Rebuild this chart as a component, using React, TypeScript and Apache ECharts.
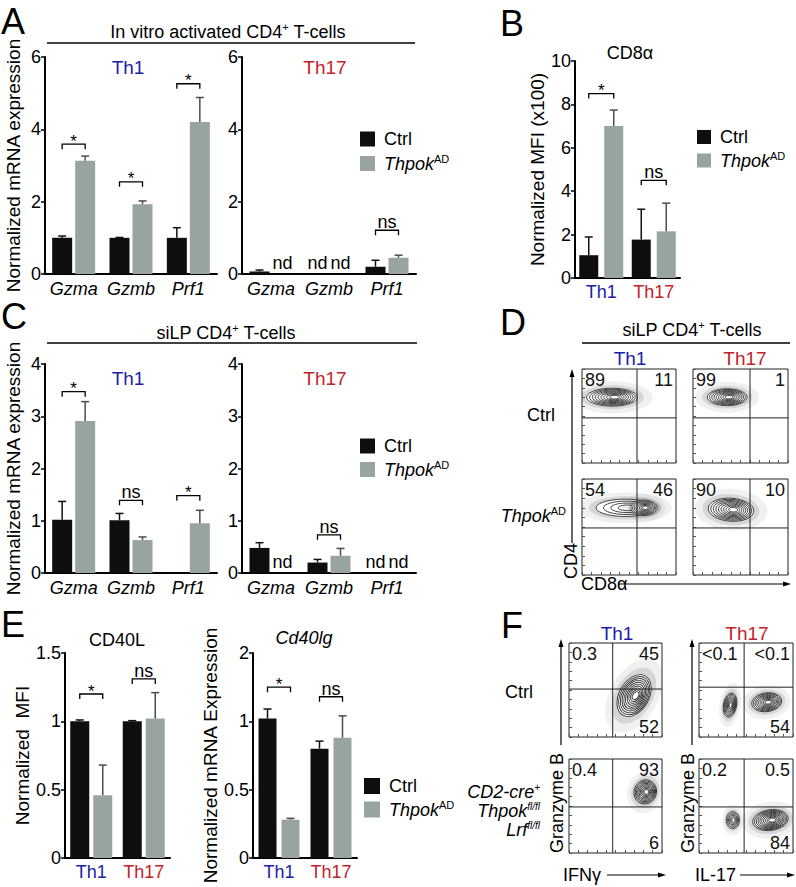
import React, { useEffect, useRef } from 'react';
import * as echarts from 'echarts';

const FONT = '"Liberation Sans", Arial, Helvetica, sans-serif';
const BLUE = '#1d1da8';
const RED = '#c1232b';
const CTRL_COLOR = '#0e0e0e';
const THPOK_COLOR = '#98a4a2';
const FS = 18;

// ---------- Panel A (in vitro activated CD4+ T cells) ----------
const genes = ['Gzma', 'Gzmb', 'Prf1'];
const aTh1Ctrl = [1.0, 1.0, 1.0];
const aTh1CtrlErr = [1.05, 1.01, 1.28];
const aTh1Thpok = [3.13, 1.93, 4.2];
const aTh1ThpokErr = [3.26, 2.02, 4.88];
const aTh1SigCat = [0, 1, 2];
const aTh1SigY = [3.59, 2.55, 5.26];
const aTh1SigLabel = ['*', '*', '*'];

const aTh17Ctrl = [0.07, null, 0.2];
const aTh17CtrlErr = [0.11, null, 0.38];
const aTh17Thpok = [null, null, 0.45];
const aTh17ThpokErr = [null, null, 0.52];
const aTh17SigCat = [2];
const aTh17SigY = [1.21];
const aTh17SigLabel = ['ns'];
const aTh17NdCat = [0, 1, 1];
const aTh17NdSeries = [1, 0, 1];

// ---------- Panel B (CD8a MFI) ----------
const subsets = ['Th1', 'Th17'];
const bCtrl = [1.05, 1.77];
const bCtrlErr = [1.89, 3.17];
const bThpok = [7.0, 2.15];
const bThpokErr = [7.74, 3.45];
const bSigCat = [0, 1];
const bSigY = [8.5, 4.5];
const bSigLabel = ['*', 'ns'];

// ---------- Panel C (siLP CD4+ T cells) ----------
const cTh1Ctrl = [1.02, 1.01, null];
const cTh1CtrlErr = [1.37, 1.14, null];
const cTh1Thpok = [2.91, 0.63, 0.95];
const cTh1ThpokErr = [3.28, 0.69, 1.2];
const cTh1SigCat = [0, 1, 2];
const cTh1SigY = [3.47, 1.39, 1.48];
const cTh1SigLabel = ['*', 'ns', '*'];

const cTh17Ctrl = [0.48, 0.2, null];
const cTh17CtrlErr = [0.58, 0.26, null];
const cTh17Thpok = [null, 0.33, null];
const cTh17ThpokErr = [null, 0.47, null];
const cTh17SigCat = [1];
const cTh17SigY = [0.73];
const cTh17SigLabel = ['ns'];
const cTh17NdCat = [0, 2, 2];
const cTh17NdSeries = [1, 0, 1];

// ---------- Panel E ----------
const eMfiCtrl = [1.0, 1.0];
const eMfiCtrlErr = [1.01, 1.005];
const eMfiThpok = [0.46, 1.02];
const eMfiThpokErr = [0.68, 1.21];
const eMfiSigCat = [0, 1];
const eMfiSigY = [1.2, 1.31];
const eMfiSigLabel = ['*', 'ns'];

const eMrnaCtrl = [1.02, 0.8];
const eMrnaCtrlErr = [1.09, 0.855];
const eMrnaThpok = [0.28, 0.88];
const eMrnaThpokErr = [0.29, 1.04];
const eMrnaSigCat = [0, 1];
const eMrnaSigY = [1.25, 1.18];
const eMrnaSigLabel = ['*', 'ns'];
const eMrnaTickLabels = ['0', '0.5', '1', '2'];

// ---------- Panel D (flow: CD8a vs CD4), order Th1-Ctrl, Th17-Ctrl, Th1-Thpok, Th17-Thpok ----------
const dGateX = [58.5, 60, 58.5, 60];
const dGateY = [48, 48, 49, 49];
const dQuad = [
  ['89', '11'],
  ['99', '1'],
  ['54', '46'],
  ['90', '10'],
];
// cluster: [centerX, centerY, radiusX, radiusY, rotationDeg, rings]
const dClusters = [
  [[32, 70, 27, 9.5, 0, 9]],
  [[36, 70, 21, 9, 0, 9]],
  [[46, 70, 31, 9, 0, 4], [66, 70, 14, 8, 0, 8]],
  [[40, 68, 24, 12, -4, 9]],
];

// ---------- Panel F (flow: IFNg / IL-17 vs Granzyme B) ----------
const fGateX = [47, 48, 47, 48];
const fGateY = [51, 53, 49, 49];
const fQuad = [
  ['0.3', '45', '52'],
  ['<0.1', '<0.1', '54'],
  ['0.4', '93', '6'],
  ['0.2', '0.5', '84'],
];
const fClusters = [
  [[70, 44, 16, 24, -30, 10]],
  [[33, 34, 7, 13, -10, 8], [72, 37, 16, 10, 8, 9]],
  [[82, 65, 12, 13, -20, 9]],
  [[36, 35, 7, 9, 0, 6], [76, 35, 19, 11, 8, 10]],
];

function buildOption() {
  const grids: any[] = [];
  const xAxes: any[] = [];
  const yAxes: any[] = [];
  const series: any[] = [];
  const legends: any[] = [];
  const graphics: any[] = [];

  const nz = (a: any[]) => a.map((v) => (v == null ? '-' : v));

  function addBarPanel(p: any) {
    const g = grids.length;
    const off = (p.barW + p.gap) / 2;
    grids.push({ left: p.left, top: p.top, width: p.width, height: p.height, containLabel: false, outerBoundsMode: 'none' });
    xAxes.push({
      type: 'category',
      gridIndex: g,
      data: p.cats,
      axisLine: { show: true, lineStyle: { color: '#000', width: 2 } },
      axisTick: { show: false },
      axisLabel: p.groupLabels
        ? {
            margin: 5,
            interval: 0,
            hideOverlap: false,
            formatter: (v: string) => (v === 'Th1' ? '{b|Th1}' : '{r|Th17}'),
            rich: {
              b: { color: BLUE, fontSize: FS, fontFamily: FONT },
              r: { color: RED, fontSize: FS, fontFamily: FONT },
            },
          }
        : { margin: 6, interval: 0, hideOverlap: false, color: '#000', fontSize: FS, fontStyle: 'italic', fontFamily: FONT },
    });
    yAxes.push({
      type: 'value',
      gridIndex: g,
      min: 0,
      max: p.max,
      interval: p.interval,
      axisLine: { show: true, lineStyle: { color: '#000', width: 2 } },
      axisTick: { show: true, length: 4, lineStyle: { color: '#000', width: 1.5 } },
      axisLabel: { fontSize: FS, color: '#000', margin: 4, fontFamily: FONT, formatter: p.formatter },
      splitLine: { show: false },
      name: p.yName || '',
      nameLocation: 'middle',
      nameGap: p.nameGap || 20,
      nameTextStyle: { fontSize: 19, color: '#000', fontFamily: FONT },
    });
    series.push({
      type: 'bar',
      name: 'Ctrl',
      xAxisIndex: g,
      yAxisIndex: g,
      data: nz(p.ctrl),
      barWidth: p.barW,
      barGap: `${(p.gap / p.barW) * 100}%`,
      itemStyle: { color: CTRL_COLOR },
      silent: true,
    });
    series.push({
      type: 'bar',
      name: 'Thpok',
      xAxisIndex: g,
      yAxisIndex: g,
      data: nz(p.thpok),
      barWidth: p.barW,
      barGap: `${(p.gap / p.barW) * 100}%`,
      itemStyle: { color: THPOK_COLOR },
      silent: true,
    });
    // error bars
    const errData: any[] = [];
    p.ctrl.forEach((v: any, i: number) => {
      if (v != null && p.ctrlErr[i] != null) errData.push([i, v, p.ctrlErr[i], 0]);
    });
    p.thpok.forEach((v: any, i: number) => {
      if (v != null && p.thpokErr[i] != null) errData.push([i, v, p.thpokErr[i], 1]);
    });
    series.push({
      type: 'custom',
      xAxisIndex: g,
      yAxisIndex: g,
      data: errData,
      silent: true,
      z: 3,
      renderItem: (params: any, api: any) => {
        const i = api.value(0);
        const s = api.value(3);
        const b = api.coord([i, api.value(1)]);
        const t = api.coord([i, api.value(2)]);
        const x = b[0] + (s === 0 ? -off : off);
        const color = s === 0 ? '#111' : '#4d4d4d';
        return {
          type: 'group',
          children: [
            { type: 'line', shape: { x1: x, y1: b[1], x2: x, y2: t[1] }, style: { stroke: color, lineWidth: 1.5 } },
            { type: 'line', shape: { x1: x - 4, y1: t[1], x2: x + 4, y2: t[1] }, style: { stroke: color, lineWidth: 1.5 } },
          ],
        };
      },
    });
    // significance brackets
    const sigData = p.sigCat.map((c: number, k: number) => [c, p.sigY[k]]);
    series.push({
      type: 'custom',
      xAxisIndex: g,
      yAxisIndex: g,
      data: sigData,
      silent: true,
      z: 3,
      renderItem: (params: any, api: any) => {
        const pt = api.coord([api.value(0), api.value(1)]);
        const lab = p.sigLabel[params.dataIndex];
        const l = pt[0] - off;
        const r = pt[0] + off;
        const star = lab === '*';
        return {
          type: 'group',
          children: [
            {
              type: 'polyline',
              shape: { points: [[l, pt[1] + 5], [l, pt[1]], [r, pt[1]], [r, pt[1] + 5]] },
              style: { stroke: '#000', lineWidth: 1.3, fill: 'none' },
            },
            {
              type: 'text',
              x: pt[0],
              y: star ? pt[1] - 3 : pt[1] + 1,
              style: {
                text: lab,
                fill: '#000',
                fontSize: star ? 17 : FS,
                fontFamily: FONT,
                align: 'center',
                verticalAlign: star ? 'middle' : 'bottom',
              },
            },
          ],
        };
      },
    });
    if (p.ndCat) {
      const ndData = p.ndCat.map((c: number, k: number) => [c, p.ndSeries[k]]);
      series.push({
        type: 'custom',
        xAxisIndex: g,
        yAxisIndex: g,
        data: ndData,
        silent: true,
        renderItem: (params: any, api: any) => {
          const pt = api.coord([api.value(0), 0]);
          const x = pt[0] + (api.value(1) === 0 ? -off : off);
          return {
            type: 'text',
            x,
            y: pt[1] - 11,
            style: { text: 'nd', fill: '#000', fontSize: FS, fontFamily: FONT, align: 'center', verticalAlign: 'middle' },
          };
        },
      });
    }
    return g;
  }

  function addFlowPanel(p: any) {
    const g = grids.length;
    grids.push({
      left: p.left,
      top: p.top,
      width: p.width,
      height: p.height,
      show: true,
      borderColor: '#222',
      borderWidth: 1,
      backgroundColor: '#fff',
      containLabel: false,
      outerBoundsMode: 'none',
    });
    const axisCommon = {
      min: 0,
      max: 100,
      interval: 10,
      axisLine: { show: false },
      axisTick: { show: true, inside: true, length: 3, lineStyle: { color: '#555', width: 1 } },
      axisLabel: { show: false },
      splitLine: { show: false },
    };
    xAxes.push({ type: 'value', gridIndex: g, ...axisCommon });
    yAxes.push({ type: 'value', gridIndex: g, ...axisCommon });
    series.push({
      type: 'custom',
      xAxisIndex: g,
      yAxisIndex: g,
      data: p.clusters,
      silent: true,
      clip: true,
      z: 2,
      renderItem: (params: any, api: any) => {
        const c = api.coord([api.value(0), api.value(1)]);
        const s = api.size([api.value(2), api.value(3)]);
        const rot = (api.value(4) * Math.PI) / 180;
        const n = api.value(5);
        const children: any[] = [
          {
            type: 'ellipse',
            x: c[0],
            y: c[1],
            rotation: rot,
            shape: { cx: 0, cy: 0, rx: s[0] * 1.6, ry: s[1] * 1.8 },
            style: { fill: 'rgba(90,90,90,0.09)' },
          },
          {
            type: 'ellipse',
            x: c[0],
            y: c[1],
            rotation: rot,
            shape: { cx: 0, cy: 0, rx: s[0] * 1.25, ry: s[1] * 1.35 },
            style: { fill: 'rgba(60,60,60,0.14)' },
          },
        ];
        for (let k = 0; k < n; k++) {
          const f = 1 - (k * 0.9) / n;
          children.push({
            type: 'ellipse',
            x: c[0] + (1 - f) * s[0] * 0.12,
            y: c[1],
            rotation: rot,
            shape: { cx: 0, cy: 0, rx: s[0] * f, ry: s[1] * f },
            style: { fill: k === 0 ? '#fff' : 'none', stroke: '#2e2e2e', lineWidth: 0.9 },
          });
        }
        return { type: 'group', children };
      },
    });
    series.push({
      type: 'custom',
      xAxisIndex: g,
      yAxisIndex: g,
      data: [[p.gateX, p.gateY]],
      silent: true,
      z: 4,
      renderItem: (params: any, api: any) => {
        const pt = api.coord([api.value(0), api.value(1)]);
        const cs = params.coordSys;
        const txt = (x: number, y: number, t: string, align: string, va: string) => ({
          type: 'text',
          x,
          y,
          style: { text: t, fill: '#111', fontSize: 18, fontFamily: FONT, align, verticalAlign: va },
        });
        const children: any[] = [
          { type: 'line', shape: { x1: pt[0], y1: cs.y, x2: pt[0], y2: cs.y + cs.height }, style: { stroke: '#222', lineWidth: 1 } },
          { type: 'line', shape: { x1: cs.x, y1: pt[1], x2: cs.x + cs.width, y2: pt[1] }, style: { stroke: '#222', lineWidth: 1 } },
          txt(cs.x + 3, cs.y + 2, p.quad[0], 'left', 'top'),
          txt(cs.x + cs.width - 3, cs.y + 2, p.quad[1], 'right', 'top'),
        ];
        if (p.quad[2] != null) children.push(txt(cs.x + cs.width - 3, cs.y + cs.height - 1, p.quad[2], 'right', 'bottom'));
        return { type: 'group', children };
      },
    });
  }

  // ----- bar panels -----
  addBarPanel({
    left: 45, top: 57, width: 172, height: 217, cats: genes, max: 6, interval: 2,
    ctrl: aTh1Ctrl, ctrlErr: aTh1CtrlErr, thpok: aTh1Thpok, thpokErr: aTh1ThpokErr,
    sigCat: aTh1SigCat, sigY: aTh1SigY, sigLabel: aTh1SigLabel,
    barW: 20, gap: 3, yName: 'Normalized mRNA expression', nameGap: 22,
  });
  addBarPanel({
    left: 242, top: 57, width: 174, height: 217, cats: genes, max: 6, interval: 2,
    ctrl: aTh17Ctrl, ctrlErr: aTh17CtrlErr, thpok: aTh17Thpok, thpokErr: aTh17ThpokErr,
    sigCat: aTh17SigCat, sigY: aTh17SigY, sigLabel: aTh17SigLabel, ndCat: aTh17NdCat, ndSeries: aTh17NdSeries,
    barW: 20, gap: 3,
  });
  addBarPanel({
    left: 575, top: 61, width: 105, height: 217, cats: subsets, groupLabels: true, max: 10, interval: 2,
    ctrl: bCtrl, ctrlErr: bCtrlErr, thpok: bThpok, thpokErr: bThpokErr,
    sigCat: bSigCat, sigY: bSigY, sigLabel: bSigLabel,
    barW: 19, gap: 6, yName: 'Normalized MFI (x100)', nameGap: 25,
  });
  addBarPanel({
    left: 45, top: 364, width: 172, height: 209, cats: genes, max: 4, interval: 1,
    ctrl: cTh1Ctrl, ctrlErr: cTh1CtrlErr, thpok: cTh1Thpok, thpokErr: cTh1ThpokErr,
    sigCat: cTh1SigCat, sigY: cTh1SigY, sigLabel: cTh1SigLabel,
    barW: 20, gap: 3, yName: 'Normalized mRNA expression', nameGap: 22,
  });
  addBarPanel({
    left: 242, top: 364, width: 174, height: 209, cats: genes, max: 4, interval: 1,
    ctrl: cTh17Ctrl, ctrlErr: cTh17CtrlErr, thpok: cTh17Thpok, thpokErr: cTh17ThpokErr,
    sigCat: cTh17SigCat, sigY: cTh17SigY, sigLabel: cTh17SigLabel, ndCat: cTh17NdCat, ndSeries: cTh17NdSeries,
    barW: 20, gap: 3,
  });
  addBarPanel({
    left: 65, top: 653, width: 105, height: 205, cats: subsets, groupLabels: true, max: 1.5, interval: 0.5,
    ctrl: eMfiCtrl, ctrlErr: eMfiCtrlErr, thpok: eMfiThpok, thpokErr: eMfiThpokErr,
    sigCat: eMfiSigCat, sigY: eMfiSigY, sigLabel: eMfiSigLabel,
    barW: 19, gap: 4, yName: 'Normalized  MFI', nameGap: 31,
  });
  addBarPanel({
    left: 253, top: 653, width: 104, height: 205, cats: subsets, groupLabels: true, max: 1.5, interval: 0.5,
    ctrl: eMrnaCtrl, ctrlErr: eMrnaCtrlErr, thpok: eMrnaThpok, thpokErr: eMrnaThpokErr,
    sigCat: eMrnaSigCat, sigY: eMrnaSigY, sigLabel: eMrnaSigLabel,
    barW: 18, gap: 5, yName: 'Normalized mRNA Expression', nameGap: 28,
    formatter: (v: number) => eMrnaTickLabels[Math.round(v / 0.5)],
  });

  // ----- flow panels -----
  const dPos = [
    [582, 369, 94, 94],
    [693, 369, 95, 94],
    [582, 479, 94, 96],
    [693, 479, 95, 96],
  ];
  dPos.forEach((b, i) =>
    addFlowPanel({ left: b[0], top: b[1], width: b[2], height: b[3], clusters: dClusters[i], gateX: dGateX[i], gateY: dGateY[i], quad: dQuad[i] })
  );
  const fPos = [
    [569, 643, 93, 94],
    [699, 643, 94, 94],
    [569, 759, 93, 94],
    [699, 759, 94, 94],
  ];
  fPos.forEach((b, i) =>
    addFlowPanel({ left: b[0], top: b[1], width: b[2], height: b[3], clusters: fClusters[i], gateX: fGateX[i], gateY: fGateY[i], quad: fQuad[i] })
  );

  // ----- legends -----
  const legendRich = {
    n: { fontSize: FS, fontFamily: FONT, color: '#000', lineHeight: 21 },
    i: { fontSize: FS, fontFamily: FONT, fontStyle: 'italic', color: '#000', lineHeight: 21 },
    s: { fontSize: 11, fontFamily: FONT, color: '#000', verticalAlign: 'top', lineHeight: 11 },
  };
  const mkLegend = (left: number, top: number, size: number, gap: number) => ({
    orient: 'vertical',
    left,
    top,
    padding: 0,
    itemWidth: size,
    itemHeight: size,
    itemGap: gap,
    icon: 'rect',
    selectedMode: false,
    data: ['Ctrl', 'Thpok'],
    formatter: (name: string) => (name === 'Thpok' ? '{i|Thpok}{s|AD}' : '{n|Ctrl}'),
    textStyle: { fontSize: FS, color: '#000', fontFamily: FONT, padding: [0, 0, 0, 4], rich: legendRich },
  });
  legends.push(mkLegend(360, 130, 15, 5));
  legends.push(mkLegend(697, 128, 14, 4));
  legends.push(mkLegend(360, 437, 15, 4));
  legends.push(mkLegend(364, 777, 16, 4));

  // ----- graphic texts -----
  const T = (x: number, y: number, text: string, o: any = {}) => ({
    type: 'text',
    x,
    y,
    rotation: o.rotate || 0,
    silent: true,
    style: {
      text,
      fill: o.color || '#000',
      fontSize: o.size || FS,
      fontFamily: FONT,
      fontStyle: o.italic ? 'italic' : 'normal',
      align: o.align || 'center',
      verticalAlign: o.va || 'middle',
      rich: o.rich,
    },
  });
  const richSup = {
    n: { fontSize: FS, fontFamily: FONT, color: '#000', lineHeight: 22 },
    i: { fontSize: FS, fontFamily: FONT, fontStyle: 'italic', color: '#000', lineHeight: 22 },
    s: { fontSize: 11, fontFamily: FONT, color: '#000', verticalAlign: 'top', lineHeight: 11 },
  };
  const richStack = {
    i: { fontSize: FS, fontFamily: FONT, fontStyle: 'italic', color: '#000', lineHeight: 19, align: 'right' },
    si: { fontSize: 10, fontFamily: FONT, fontStyle: 'italic', color: '#000', verticalAlign: 'top', lineHeight: 10, align: 'right' },
  };
  const L = (x1: number, y1: number, x2: number, y2: number, w = 1.5) => ({
    type: 'line',
    silent: true,
    shape: { x1, y1, x2, y2 },
    style: { stroke: '#000', lineWidth: w },
  });
  const arrowUp = (x: number, yTip: number) => ({
    type: 'polygon',
    silent: true,
    shape: { points: [[x, yTip], [x - 2.5, yTip + 8], [x + 2.5, yTip + 8]] },
    style: { fill: '#000' },
  });
  const arrowRight = (xTip: number, y: number) => ({
    type: 'polygon',
    silent: true,
    shape: { points: [[xTip, y], [xTip - 8, y - 2.5], [xTip - 8, y + 2.5]] },
    style: { fill: '#000' },
  });

  // panel letters
  graphics.push(T(13, 21, 'A', { size: 36 }));
  graphics.push(T(512, 23, 'B', { size: 36 }));
  graphics.push(T(14, 316, 'C', { size: 36 }));
  graphics.push(T(513, 322, 'D', { size: 36 }));
  graphics.push(T(13, 624, 'E', { size: 36 }));
  graphics.push(T(512, 625, 'F', { size: 36 }));

  // panel A header
  graphics.push(T(228, 32, '{n|In vitro activated CD4}{s|+}{n| T-cells}', { rich: richSup }));
  graphics.push(L(47, 43, 415, 43));
  graphics.push(T(128, 67, 'Th1', { color: BLUE, size: 19 }));
  graphics.push(T(325, 67, 'Th17', { color: RED, size: 19 }));
  // panel B header
  graphics.push(T(630, 53, 'CD8α'));
  // panel C header
  graphics.push(T(226, 333, '{n|siLP CD4}{s|+}{n| T-cells}', { rich: richSup }));
  graphics.push(L(47, 343, 417, 343));
  graphics.push(T(128, 378, 'Th1', { color: BLUE, size: 19 }));
  graphics.push(T(325, 378, 'Th17', { color: RED, size: 19 }));
  // panel D header
  graphics.push(T(692, 330, '{n|siLP CD4}{s|+}{n| T-cells}', { rich: richSup }));
  graphics.push(L(582, 343, 790, 343));
  graphics.push(T(630, 358, 'Th1', { color: BLUE, size: 19 }));
  graphics.push(T(745, 358, 'Th17', { color: RED, size: 19 }));
  graphics.push(T(555, 415, 'Ctrl', { align: 'right' }));
  graphics.push(T(566, 516, '{i|Thpok}{s|AD}', { align: 'right', rich: richSup }));
  graphics.push(L(572, 543, 572, 376, 1.2));
  graphics.push(arrowUp(572, 369));
  graphics.push(T(571, 561, 'CD4', { rotate: Math.PI / 2 }));
  graphics.push(T(581, 584, 'CD8α', { align: 'left' }));
  graphics.push(L(618, 584, 784, 584, 1.2));
  graphics.push(arrowRight(791, 584));
  // panel E titles
  graphics.push(T(117, 640, 'CD40L'));
  graphics.push(T(304, 638, 'Cd40lg', { italic: true }));
  // panel F
  graphics.push(T(617, 633, 'Th1', { color: BLUE, size: 19 }));
  graphics.push(T(747, 633, 'Th17', { color: RED, size: 19 }));
  graphics.push(T(533, 692, 'Ctrl', { align: 'right' }));
  graphics.push(
    T(540, 811, '{i|CD2-cre}{si|+}\n{i|Thpok}{si|fl/fl}\n{i|Lrf}{si|fl/fl}', { align: 'right', rich: richStack })
  );
  graphics.push(L(561, 745, 561, 646, 1.2));
  graphics.push(arrowUp(561, 639));
  graphics.push(T(557, 803, 'Granzyme B', { rotate: Math.PI / 2 }));
  graphics.push(L(692, 745, 692, 646, 1.2));
  graphics.push(arrowUp(692, 639));
  graphics.push(T(688, 803, 'Granzyme B', { rotate: Math.PI / 2 }));
  graphics.push(T(563, 875, 'IFNγ', { align: 'left' }));
  graphics.push(L(607, 875, 659, 875, 1.2));
  graphics.push(arrowRight(666, 875));
  graphics.push(T(695, 875, 'IL-17', { align: 'left' }));
  graphics.push(L(740, 875, 788, 875, 1.2));
  graphics.push(arrowRight(795, 875));

  return {
    animation: false,
    backgroundColor: '#fff',
    textStyle: { fontFamily: FONT },
    grid: grids,
    xAxis: xAxes,
    yAxis: yAxes,
    legend: legends,
    series,
    graphic: { elements: graphics },
  };
}

export default function App() {
  const ref = useRef<HTMLDivElement>(null);
  useEffect(() => {
    document.body.style.margin = '0';
    const chart = echarts.init(ref.current as HTMLDivElement, null, { renderer: 'svg' });
    chart.setOption(buildOption() as any);
    return () => chart.dispose();
  }, []);
  return <div ref={ref} style={{ width: 796, height: 887, background: '#fff' }} />;
}
